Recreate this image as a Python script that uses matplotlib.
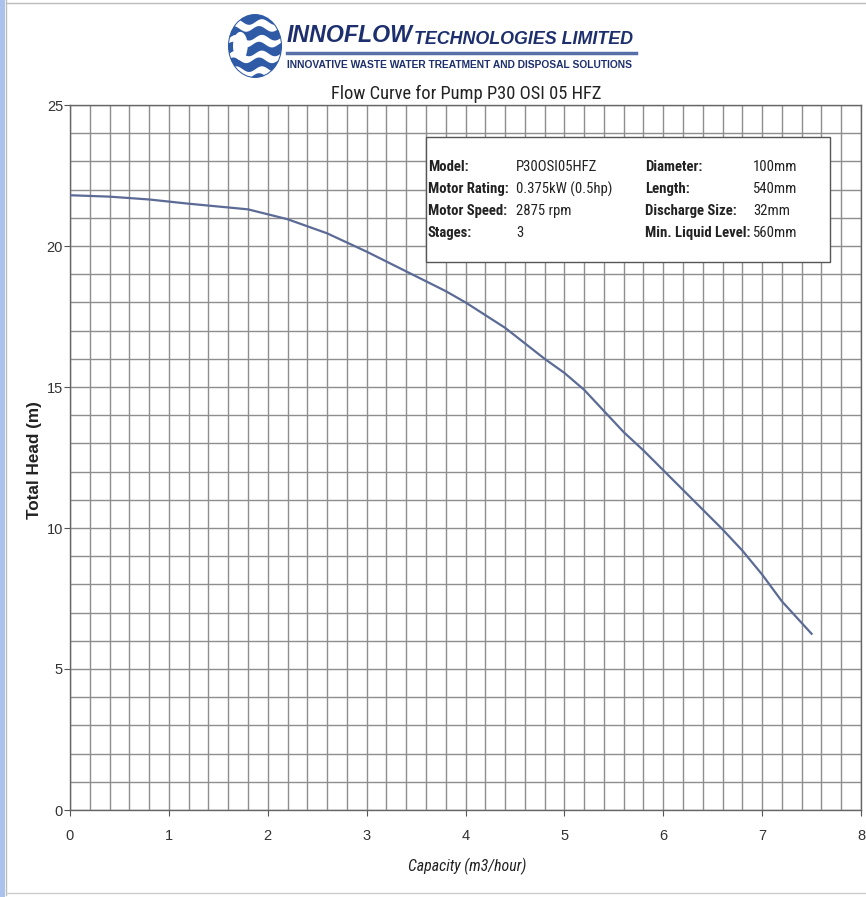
import numpy as np
import matplotlib
matplotlib.use("Agg")
import matplotlib.pyplot as plt
from matplotlib import font_manager
from matplotlib.patches import Ellipse, Rectangle
from matplotlib.ticker import MultipleLocator
from matplotlib.lines import Line2D

# ---- data ----
capacity = [0, 0.4, 0.8, 1.2, 1.8, 2.2, 2.6, 3.0, 3.4, 3.8, 4.0, 4.4, 4.8, 5.0,
            5.2, 5.4, 5.6, 5.8, 6.0, 6.2, 6.4, 6.6, 6.8, 7.0, 7.2, 7.5]
head = [21.8, 21.75, 21.65, 21.5, 21.3, 20.95, 20.45, 19.8, 19.1, 18.4, 18.0,
        17.1, 16.0, 15.5, 14.9, 14.15, 13.4, 12.75, 12.05, 11.35, 10.65, 9.95,
        9.2, 8.35, 7.4, 6.25]
x_ticks = [0, 1, 2, 3, 4, 5, 6, 7, 8]
y_ticks = [0, 5, 10, 15, 20, 25]
info_left_labels = ["Model:", "Motor Rating:", "Motor Speed:", "Stages:"]
info_left_values = ["P30OSI05HFZ", "0.375kW (0.5hp)", "2875 rpm", "3"]
info_right_labels = ["Diameter:", "Length:", "Discharge Size:", "Min. Liquid Level:"]
info_right_values = ["100mm", "540mm", "32mm", "560mm"]

W, H = 866, 897
fig = plt.figure(figsize=(W / 100, H / 100), dpi=100)
fig.patch.set_facecolor("white")
renderer = fig.canvas.get_renderer()

available = {f.name for f in font_manager.fontManager.ttflist}

def pick(cands):
    for c in cands:
        if c in available:
            return [c, "DejaVu Sans"]
    return ["DejaVu Sans"]

NARROW = pick(["Liberation Sans Narrow", "Roboto Condensed", "Open Sans Condensed",
               "Roboto", "Liberation Sans", "DejaVu Sans"])
SANS = pick(["Liberation Sans", "Arimo", "Roboto", "DejaVu Sans"])

def fx(x):
    return x / W

def fy(y):
    return 1 - y / H

def fit(txt, target, vertical=False):
    bb = txt.get_window_extent(renderer)
    size = bb.height if vertical else bb.width
    if size > 0:
        txt.set_fontsize(txt.get_fontsize() * target / size)
    return txt

# ---- main axes ----
left, right, top, bottom = 70, 861, 105, 810
ax = fig.add_axes([fx(left), fy(bottom), (right - left) / W, (bottom - top) / H])
ax.set_xlim(0, 8)
ax.set_ylim(0, 25)
ax.xaxis.set_minor_locator(MultipleLocator(0.2))
ax.yaxis.set_minor_locator(MultipleLocator(1))
ax.set_xticks(x_ticks)
ax.set_yticks(y_ticks)
ax.grid(which="both", color="#8e8e8e", lw=1.0)
ax.set_axisbelow(True)
ax.tick_params(which="minor", length=0)
ax.tick_params(which="major", length=4, width=0.8, color="#555555",
               labelsize=10.5, labelcolor="#333333")
ax.tick_params(axis="x", pad=10)
ax.tick_params(axis="y", pad=1)
for lab in ax.get_xticklabels() + ax.get_yticklabels():
    lab.set_family(SANS)
for s in ax.spines.values():
    s.set_color("#666666")
    s.set_linewidth(1.0)

ax.plot(capacity, head, color="#5b6b96", lw=1.6, zorder=3)

xl = fig.text(fx(467), fy(866), "Capacity (m3/hour)", family=NARROW,
              style="italic", fontsize=10, color="#222222",
              ha="center", va="center")
fit(xl, 118)
yl = fig.text(fx(35), fy(460), "Total Head (m)", family=SANS, fontweight="bold",
              fontsize=10, color="#222222", rotation=90,
              ha="center", va="center")
fit(yl, 117, vertical=True)

# ---- info box ----
bx0, by0, bx1, by1 = 426, 137, 830, 262
fig.patches.append(Rectangle((fx(bx0), fy(by1)), (bx1 - bx0) / W, (by1 - by0) / H,
                             transform=fig.transFigure, facecolor="white",
                             edgecolor="#555555", lw=1.0, zorder=5))
probe = fig.text(0, 0, "Min. Liquid Level:", family=NARROW, fontweight="bold",
                 fontsize=10)
fit(probe, 106)
info_fs = probe.get_fontsize()
probe.remove()
rows_y = [167, 189, 211, 233]
for i, yy in enumerate(rows_y):
    kw = dict(family=NARROW, fontsize=info_fs, color="#222222", va="center",
              zorder=6)
    fig.text(fx(428), fy(yy), info_left_labels[i], fontweight="bold", **kw)
    fig.text(fx(516), fy(yy), info_left_values[i], **kw)
    fig.text(fx(645), fy(yy), info_right_labels[i], fontweight="bold", **kw)
    fig.text(fx(753), fy(yy), info_right_values[i], **kw)

# ---- header / logo ----
lax = fig.add_axes([fx(227), fy(79), 56 / W, 66 / H])
lax.set_xlim(-1.05, 1.05)
lax.set_ylim(-1.05, 1.05)
lax.axis("off")
ell = Ellipse((0, 0), 1.95, 1.97, facecolor="#2f5aa6", edgecolor="#2f5aa6", lw=1.5)
lax.add_patch(ell)
t = np.linspace(-1.2, 1.2, 200)
for base in [0.62, 0.12, -0.38, -0.88]:
    upper = base + 0.16 + 0.09 * np.sin(t * 6.5)
    lower = base - 0.06 + 0.09 * np.sin(t * 6.5 + 0.7)
    band = lax.fill_between(t, lower, upper, color="white", lw=0)
    band.set_clip_path(ell)
hole = Ellipse((-0.55, 0.0), 0.55, 0.9, facecolor="white", edgecolor="none")
lax.add_patch(hole)
hole.set_clip_path(ell)

t1 = fig.text(fx(287), fy(36), "INNOFLOW", family=SANS, fontweight="bold",
              style="italic", fontsize=19, color="#1d2f6e", va="center")
fit(t1, 126)
t2 = fig.text(fx(414), fy(39), "TECHNOLOGIES LIMITED", family=SANS,
              fontweight="bold", style="italic", fontsize=9.5, color="#1d2f6e",
              va="center")
fit(t2, 221)
fig.add_artist(Line2D([fx(287), fx(636)], [fy(53), fy(53)], color="#5870a8",
                      lw=2.5, transform=fig.transFigure))
t3 = fig.text(fx(287), fy(65), "INNOVATIVE WASTE WATER TREATMENT AND DISPOSAL SOLUTIONS",
              family=SANS, fontweight="bold", fontsize=5.6, color="#1d2f6e",
              va="center")
fit(t3, 345)
t4 = fig.text(fx(466), fy(94), "Flow Curve for Pump P30 OSI 05 HFZ", family=NARROW,
              fontsize=12, color="#222222", ha="center", va="center")
fit(t4, 270)

# ---- scan border ----
fig.patches.append(Rectangle((0, 0), 5 / W, 1, transform=fig.transFigure,
                             facecolor="#a9c3ec", edgecolor="none"))
fig.add_artist(Line2D([fx(6), fx(6)], [fy(0), fy(895)], color="#bbbbbb",
                      lw=1.0, transform=fig.transFigure))
fig.add_artist(Line2D([fx(6), fx(866)], [fy(3), fy(3)], color="#bbbbbb",
                      lw=1.0, transform=fig.transFigure))
fig.add_artist(Line2D([fx(6), fx(866)], [fy(893), fy(893)], color="#cccccc",
                      lw=1.0, transform=fig.transFigure))

fig.savefig("out.png", dpi=100, facecolor="white")
